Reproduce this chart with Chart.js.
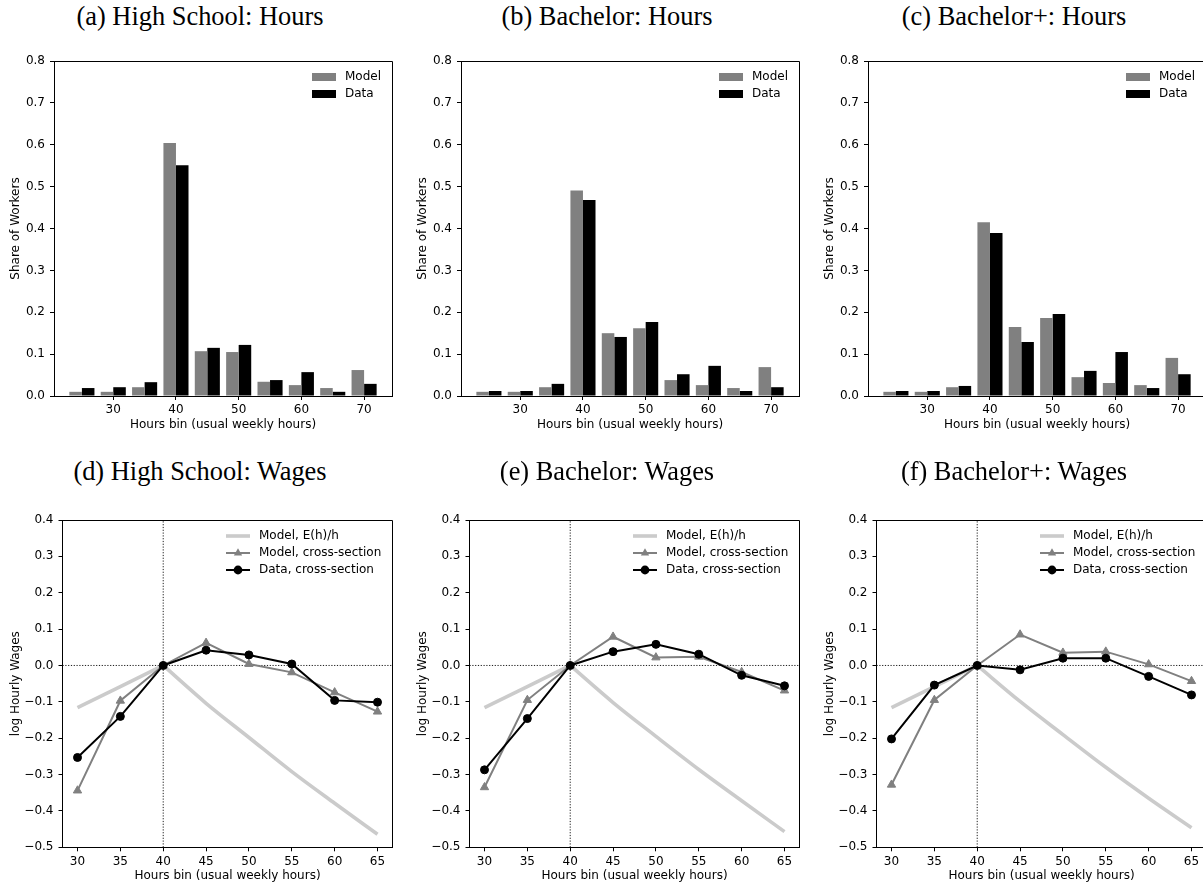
<!DOCTYPE html>
<html><head><meta charset="utf-8">
<script src="https://cdn.jsdelivr.net/npm/chart.js@4.4.1/dist/chart.umd.min.js"></script>
<style>
html,body{margin:0;padding:0;background:#fff;overflow:hidden;width:1203px;height:888px}
#fig{position:relative;width:1203px;height:888px;overflow:hidden;background:#fff}
.cap{position:absolute;width:407px;text-align:center;font-family:'Liberation Serif','Times New Roman',serif;font-size:26.4px;line-height:1;color:#000;white-space:nowrap}
canvas{position:absolute}
</style></head><body><div id="fig"></div>
<script>
// ---------- data ----------
const panelTitles = ['(a) High School: Hours','(b) Bachelor: Hours','(c) Bachelor+: Hours',
                     '(d) High School: Wages','(e) Bachelor: Wages','(f) Bachelor+: Wages'];
const barLabels = ['Model','Data'];
const lineLabels = ['Model, E(h)/h','Model, cross-section','Data, cross-section'];

const hoursBins = [25, 30, 35, 40, 45, 50, 55, 60, 65, 70];
const hoursTicks = [30, 40, 50, 60, 70];
const hoursTickLabels = ['30','40','50','60','70'];
const barHourRange = [20.55, 74.45];
const shareRange = [0, 0.8];
const shareTicks = [0, 0.1, 0.2, 0.3, 0.4, 0.5, 0.6, 0.7, 0.8];
const shareTickLabels = ['0.0','0.1','0.2','0.3','0.4','0.5','0.6','0.7','0.8'];

const hsModelShare = [0.010, 0.010, 0.021, 0.604, 0.107, 0.105, 0.034, 0.026, 0.019, 0.062];
const hsDataShare  = [0.019, 0.021, 0.033, 0.551, 0.115, 0.122, 0.038, 0.057, 0.010, 0.029];
const baModelShare = [0.010, 0.010, 0.021, 0.491, 0.150, 0.162, 0.038, 0.026, 0.019, 0.069];
const baDataShare  = [0.012, 0.012, 0.029, 0.468, 0.141, 0.177, 0.052, 0.072, 0.012, 0.021];
const bpModelShare = [0.010, 0.010, 0.021, 0.415, 0.165, 0.186, 0.045, 0.031, 0.026, 0.091];
const bpDataShare  = [0.012, 0.012, 0.024, 0.389, 0.129, 0.196, 0.060, 0.105, 0.019, 0.052];

const wageHours = [30, 35, 40, 45, 50, 55, 60, 65];
const wageHourTicks = [30, 35, 40, 45, 50, 55, 60, 65];
const wageHourTickLabels = ['30','35','40','45','50','55','60','65'];
const wageHourRange = [28.25, 66.75];
const wageRange = [-0.5, 0.4];
const wageTicks = [-0.5, -0.4, -0.3, -0.2, -0.1, 0, 0.1, 0.2, 0.3, 0.4];
const wageTickLabels = ['\u22120.5','\u22120.4','\u22120.3','\u22120.2','\u22120.1','0.0','0.1','0.2','0.3','0.4'];
const refHour = 40;
const refWage = 0;

const hsModelWage = [-0.344, -0.097, 0, 0.062, 0.004, -0.019, -0.074, -0.127];
const hsDataWage  = [-0.253, -0.140, 0, 0.042, 0.029, 0.004, -0.096, -0.101];
const baModelWage = [-0.335, -0.095, 0, 0.079, 0.022, 0.024, -0.018, -0.069];
const baDataWage  = [-0.287, -0.146, 0, 0.038, 0.058, 0.031, -0.027, -0.056];
const bpModelWage = [-0.328, -0.095, 0, 0.085, 0.035, 0.038, 0.003, -0.043];
const bpDataWage  = [-0.202, -0.054, 0, -0.012, 0.020, 0.020, -0.030, -0.081];

// Model E(h)/h: rising part below 40 h, falling part from 40 h
const effHoursLow  = [30, 35, 40];
const effHoursHigh = [40, 45, 50, 55, 60, 65];
const hsEffLow  = [-0.116, -0.058, 0];
const hsEffHigh = [0, -0.104, -0.198, -0.292, -0.379, -0.464];
const baEffLow  = [-0.116, -0.058, 0];
const baEffHigh = [0, -0.102, -0.195, -0.286, -0.372, -0.457];
const bpEffLow  = [-0.116, -0.058, 0];
const bpEffHigh = [0, -0.099, -0.190, -0.280, -0.365, -0.446];

// ---------- styling ----------
const FONT = "'DejaVu Sans', 'Liberation Sans', sans-serif";
Chart.defaults.font.family = FONT;
Chart.defaults.font.size = 12;
Chart.defaults.color = '#000';
const C_MODEL = '#808080', C_DATA = '#000000', C_EFF = '#cbcbcb';

const fig = document.getElementById('fig');
const SUB_W = 407;

function makeCanvas(left, top, w, h) {
  const c = document.createElement('canvas');
  c.width = w; c.height = h;
  c.style.left = left + 'px'; c.style.top = top + 'px';
  c.style.width = w + 'px'; c.style.height = h + 'px';
  fig.appendChild(c);
  return c;
}
function caption(text, left, top) {
  const d = document.createElement('div');
  d.className = 'cap'; d.textContent = text;
  d.style.left = left + 'px'; d.style.top = top + 'px';
  fig.appendChild(d);
}
function icon(draw) {
  const c = document.createElement('canvas');
  c.width = 27; c.height = 14;
  draw(c.getContext('2d'));
  return c;
}
const iconBarModel = icon(g => { g.fillStyle = C_MODEL; g.fillRect(0, 3, 24, 8); });
const iconBarData  = icon(g => { g.fillStyle = C_DATA;  g.fillRect(0, 3, 24, 8); });
const iconEff = icon(g => { g.strokeStyle = C_EFF; g.lineWidth = 3.6; g.beginPath(); g.moveTo(0, 7); g.lineTo(24, 7); g.stroke(); });
const iconModel = icon(g => {
  g.strokeStyle = C_MODEL; g.fillStyle = C_MODEL; g.lineWidth = 2;
  g.beginPath(); g.moveTo(0, 7); g.lineTo(24, 7); g.stroke();
  const r = 4.8, x = 12, y = 7; let a = 0;
  g.beginPath(); g.moveTo(x + Math.sin(a) * r, y - Math.cos(a) * r);
  a += 2 * Math.PI / 3; g.lineTo(x + Math.sin(a) * r, y - Math.cos(a) * r);
  a += 2 * Math.PI / 3; g.lineTo(x + Math.sin(a) * r, y - Math.cos(a) * r);
  g.closePath(); g.fill();
});
const iconData = icon(g => {
  g.strokeStyle = C_DATA; g.fillStyle = C_DATA; g.lineWidth = 2;
  g.beginPath(); g.moveTo(0, 7); g.lineTo(24, 7); g.stroke();
  g.beginPath(); g.arc(12, 7, 4.4, 0, Math.PI * 2); g.fill();
});

// ---------- plugins ----------
function alignPx(p) { return Math.round(p - 0.5) + 0.5; }
const framePlugin = {
  id: 'frame',
  afterDatasetsDraw(chart) {
    const {ctx, chartArea: a} = chart;
    ctx.save();
    ctx.strokeStyle = '#000'; ctx.lineWidth = 1;
    ctx.beginPath();
    const t = alignPx(a.top), r = alignPx(a.right);
    ctx.moveTo(a.left, t); ctx.lineTo(r, t); ctx.lineTo(r, a.bottom);
    ctx.stroke();
    ctx.restore();
  }
};
const legendPlace = {
  id: 'legendPlace',
  afterLayout(chart) {
    const lg = chart.legend;
    if (!lg || !lg.columnSizes || !lg.columnSizes[0]) return;
    const a = chart.chartArea;
    const pad = lg.options.labels.padding;
    const colW = lg.columnSizes[0].width;
    lg.left = Math.round(a.right - 11 - colW) - pad;
    lg.top = Math.round(a.top + 9.7) - pad;
    lg.right = a.right; lg.bottom = a.bottom;
  }
};

function legendOpts() {
  return {
    display: true, position: 'chartArea', align: 'start',
    labels: {
      usePointStyle: true, pointStyleWidth: 27, padding: 5,
      font: {size: 12, family: FONT}, color: '#000',
      generateLabels: (chart) => chart.data.datasets
        .map((ds, i) => ({ds, i}))
        .filter(o => o.ds.legendIcon)
        .sort((p, q) => p.ds.legendOrder - q.ds.legendOrder)
        .map(o => ({
          text: o.ds.label, pointStyle: o.ds.legendIcon, fillStyle: 'rgba(0,0,0,0)',
          strokeStyle: 'rgba(0,0,0,0)', lineWidth: 0, hidden: false,
          datasetIndex: o.i, fontColor: '#000'
        }))
    }
  };
}

function axisCommon(ticks, tickLabels, range, titleText, titlePad, fixSize, horiz) {
  return {
    type: 'linear', min: range[0], max: range[1], offset: false,
    afterBuildTicks: (s) => { s.ticks = ticks.map(v => ({value: v})); },
    afterFit: (s) => { if (horiz) s.height = fixSize; else s.width = fixSize; },
    ticks: {
      autoSkip: false, maxRotation: 0, minRotation: 0,
      padding: horiz ? 3 : 5, color: '#000', font: {size: 12, family: FONT},
      callback: (v, i) => tickLabels[i]
    },
    grid: { display: true, drawOnChartArea: false, drawTicks: true, tickLength: 4,
            tickColor: '#000', tickWidth: 1, offset: false },
    border: { display: true, color: '#000', width: 1 },
    title: { display: true, text: titleText, color: '#000', font: {size: 12, family: FONT},
             padding: titlePad }
  };
}

function pts(xs, ys) { return xs.map((x, i) => ({x: x, y: ys[i]})); }

// ---------- top row: hours distributions ----------
const barSets = [[hsModelShare, hsDataShare], [baModelShare, baDataShare], [bpModelShare, bpDataShare]];
barSets.forEach((pair, k) => {
  const left = SUB_W * k;
  caption(panelTitles[k], left - 3.5, 2.9);
  const cv = makeCanvas(left, 40, SUB_W, 400);
  new Chart(cv, {
    type: 'bar',
    data: {
      datasets: [
        { label: barLabels[0], data: pts(hoursBins, pair[0]), backgroundColor: C_MODEL, borderWidth: 0,
          categoryPercentage: 0.8, barPercentage: 1.0, legendIcon: iconBarModel, legendOrder: 0 },
        { label: barLabels[1], data: pts(hoursBins, pair[1]), backgroundColor: C_DATA, borderWidth: 0,
          categoryPercentage: 0.8, barPercentage: 1.0, legendIcon: iconBarData, legendOrder: 1 }
      ]
    },
    options: {
      responsive: false, animation: false, events: [],
      layout: { padding: { top: 21, right: 15, bottom: 0, left: 0 } },
      plugins: { legend: legendOpts(), tooltip: { enabled: false }, title: { display: false } },
      scales: {
        x: axisCommon(hoursTicks, hoursTickLabels, barHourRange, 'Hours bin (usual weekly hours)',
                      {top: 0, bottom: 7.6}, 44, true),
        y: Object.assign(axisCommon(shareTicks, shareTickLabels, shareRange, 'Share of Workers',
                      {top: 9, bottom: 0}, 54, false), {beginAtZero: true})
      }
    },
    plugins: [framePlugin, legendPlace]
  });
});

// ---------- bottom row: wages ----------
const wageSets = [
  [hsEffLow, hsEffHigh, hsModelWage, hsDataWage],
  [baEffLow, baEffHigh, baModelWage, baDataWage],
  [bpEffLow, bpEffHigh, bpModelWage, bpDataWage]];
wageSets.forEach((set, k) => {
  const left = SUB_W * k;
  caption(panelTitles[k + 3], left - 3.5, 458.4);
  const cv = makeCanvas(left, 440, SUB_W, 448);
  new Chart(cv, {
    type: 'line',
    data: {
      datasets: [
        { label: lineLabels[2], data: pts(wageHours, set[3]), borderColor: C_DATA, borderWidth: 2,
          pointStyle: 'circle', pointRadius: 4, pointBackgroundColor: C_DATA, pointBorderColor: C_DATA,
          pointBorderWidth: 1, tension: 0, fill: false, legendIcon: iconData, legendOrder: 2 },
        { label: lineLabels[1], data: pts(wageHours, set[2]), borderColor: C_MODEL, borderWidth: 2,
          pointStyle: 'triangle', pointRadius: 4.8, pointBackgroundColor: C_MODEL, pointBorderColor: C_MODEL,
          pointBorderWidth: 1, tension: 0, fill: false, legendIcon: iconModel, legendOrder: 1 },
        { label: lineLabels[0], data: pts(effHoursLow, set[0]), borderColor: C_EFF, borderWidth: 3.6,
          pointRadius: 0, tension: 0, fill: false, legendIcon: iconEff, legendOrder: 0 },
        { label: lineLabels[0], data: pts(effHoursHigh, set[1]), borderColor: C_EFF, borderWidth: 3.6,
          pointRadius: 0, cubicInterpolationMode: 'monotone', fill: false },
        { label: 'vref', data: [{x: refHour, y: wageRange[0]}, {x: refHour, y: wageRange[1]}],
          borderColor: '#000', borderWidth: 0.9, borderDash: [1.2, 1.6], pointRadius: 0, fill: false },
        { label: 'href', data: [{x: wageHourRange[0], y: refWage}, {x: wageHourRange[1], y: refWage}],
          borderColor: '#000', borderWidth: 0.9, borderDash: [1.2, 1.6], pointRadius: 0, fill: false }
      ]
    },
    options: {
      responsive: false, animation: false, events: [],
      layout: { padding: { top: 80, right: 14.5, bottom: 0, left: 0 } },
      plugins: { legend: legendOpts(), tooltip: { enabled: false }, title: { display: false } },
      scales: {
        x: axisCommon(wageHourTicks, wageHourTickLabels, wageHourRange, 'Hours bin (usual weekly hours)',
                      {top: 0, bottom: 4.5}, 40.7, true),
        y: axisCommon(wageTicks, wageTickLabels, wageRange, 'log Hourly Wages',
                      {top: 9, bottom: 0}, 62.5, false)
      }
    },
    plugins: [framePlugin, legendPlace]
  });
});
</script>
</body></html>
